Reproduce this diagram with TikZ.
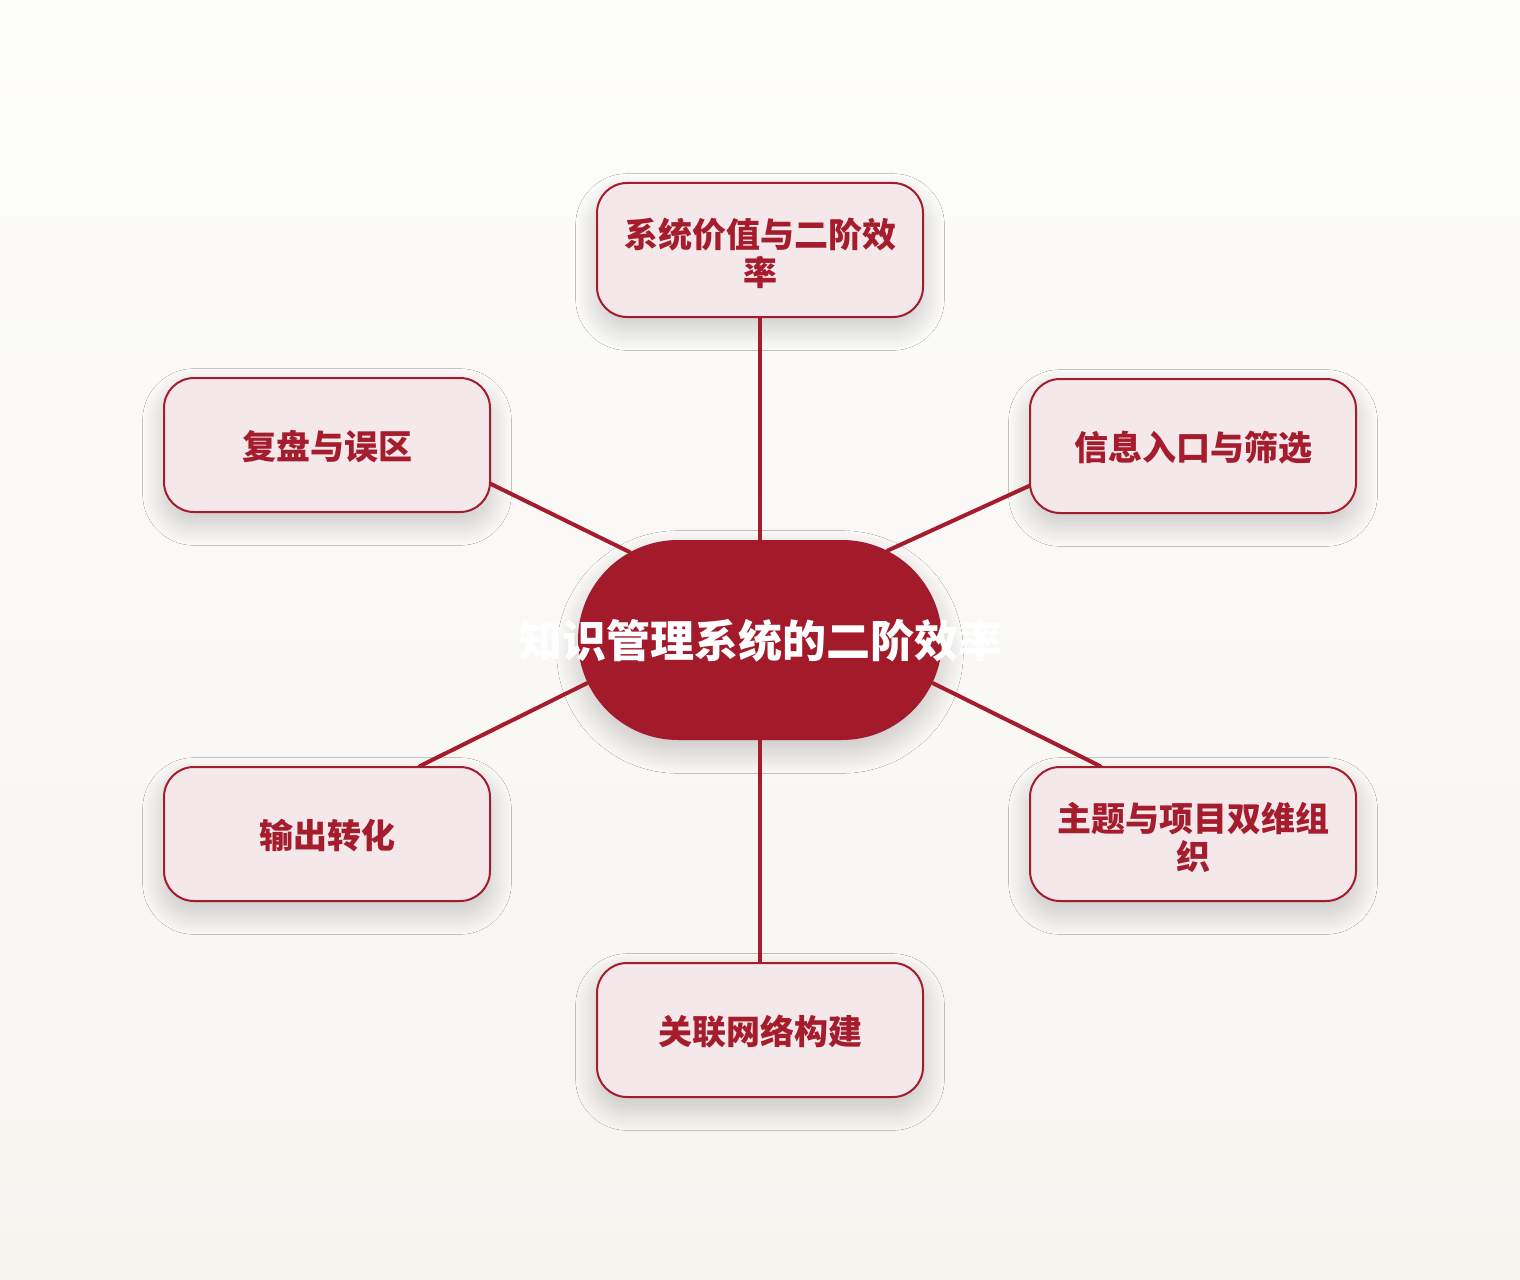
\documentclass[tikz,border=0pt]{standalone}
\usepackage{fontspec}
\newfontfamily\cjk{Noto Sans CJK SC}
\usetikzlibrary{shapes.misc,calc,shadows.blur}
\definecolor{wine}{HTML}{A51C2C}
\definecolor{hubred}{HTML}{A31A2A}
\definecolor{blush}{HTML}{F4E8EB}
\definecolor{paperTop}{HTML}{FDFDFC}
\definecolor{paperBot}{HTML}{F7F4F0}
\tikzset{every picture/.style={line width=0.75pt},
  softshadow/.style={blur shadow={shadow xshift=0pt,shadow yshift=-9pt,shadow blur radius=16pt,shadow blur steps=30,shadow opacity=20}},
  topic/.style={draw=wine,line width=1.5pt,fill=blush,rounded corners=22.5pt,minimum width=244.5pt,minimum height=100.5pt,inner sep=0pt,text height=24pt,align=center,text=wine,font=\cjk\bfseries\fontsize{25.5}{28}\selectfont,softshadow},
  twoline/.style={text height=55pt},
  hub/.style={rounded rectangle,fill=hubred,minimum width=273pt,minimum height=150pt,inner sep=0pt,softshadow},
  hubtitle/.style={text=white,inner sep=0pt,font=\cjk\bfseries\fontsize{33}{36}\selectfont},
  spoke/.style={draw=wine,line width=3pt,line cap=round}}

\begin{document}
\begin{tikzpicture}[x=0.75pt,y=0.75pt,yscale=-1,xscale=1]
	%Background
	\shade [top color=paperTop,bottom color=paperBot] (0,0) rectangle (1520,1280) ;
	\useasboundingbox (0,0) rectangle (1520,1280) ;
	
	%Centre
	\node [hub] (hub) at (760,640) {} ;
	\node [hubtitle] (title) at (760,641) {知识管理系统的二阶效率} ;
	
	%Rounded Rect
	\node [topic,twoline] (tp) at (760,250) {系统价值与二阶效\\率} ;
	%Rounded Rect
	\node [topic] (ul) at (327,445) {复盘与误区} ;
	%Rounded Rect
	\node [topic] (ur) at (1193,446) {信息入口与筛选} ;
	%Rounded Rect
	\node [topic] (ll) at (327,834) {输出转化} ;
	%Rounded Rect
	\node [topic,twoline] (lr) at (1193,834) {主题与项目双维组\\织} ;
	%Rounded Rect
	\node [topic] (bt) at (760,1030) {关联网络构建} ;
	
	%Straight Lines
	\draw [spoke] (hub.north) -- (tp.south) ;
	\draw [spoke] (hub.146) -- ($(ul.east)+(0,39)$) ;
	\draw [spoke] (hub.35) -- ($(ur.west)+(0,40)$) ;
	\draw [spoke] (hub.194) -- ($(ll.north)+(93,0)$) ;
	\draw [spoke] (hub.-14) -- ($(lr.north)+(-93,0)$) ;
	\draw [spoke] (hub.south) -- (bt.north) ;
\end{tikzpicture}
\end{document}
